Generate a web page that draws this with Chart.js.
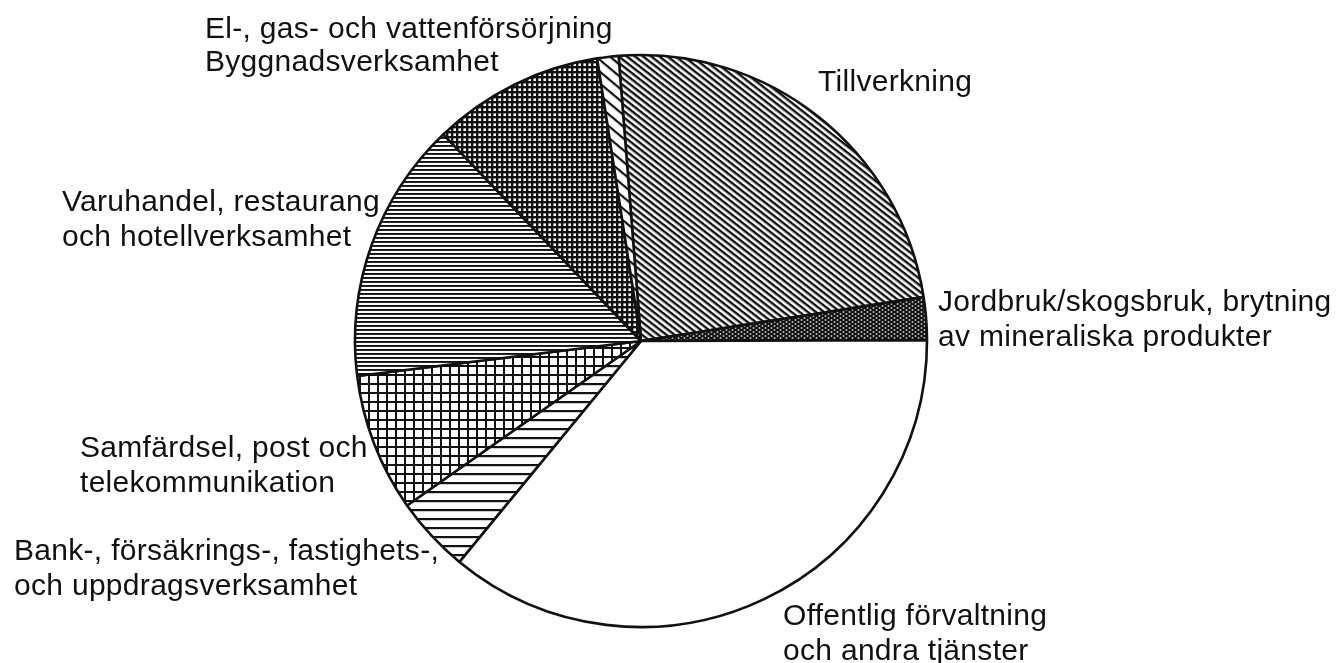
<!DOCTYPE html>
<html>
<head>
<meta charset="utf-8">
<script src="https://cdn.jsdelivr.net/npm/chart.js"></script>
<style>
  html, body { margin: 0; padding: 0; background: #fff; }
  #wrap { position: relative; width: 1336px; height: 663px; overflow: hidden; }
  #pie { position: absolute; left: 341px; top: 41px; width: 600px; height: 600px; }
  .lbl {
    position: absolute; white-space: pre; color: #111; letter-spacing: 0.3px;
    font-family: "Liberation Sans", Arial, sans-serif; font-size: 30px; line-height: 35px;
  }
</style>
</head>
<body>
<div id="wrap">
  <div id="pie"><canvas id="grafico-pizza"></canvas></div>
</div>
<script>
// Kategorier (medurs, med start vid Tillverkning)
const kategorier = [
  "Tillverkning",
  "Jordbruk/skogsbruk, brytning\nav mineraliska produkter",
  "Offentlig förvaltning\noch andra tjänster",
  "Bank-, försäkrings-, fastighets-,\noch uppdragsverksamhet",
  "Samfärdsel, post och\ntelekommunikation",
  "Varuhandel, restaurang\noch hotellverksamhet",
  "Byggnadsverksamhet",
  "El-, gas- och vattenförsörjning",
];

// Andel i procent
const andelar = [23.8, 2.4, 36.0, 4.3, 7.8, 14.8, 9.7, 1.2];

// Var etiketterna står (vänsterkant, mitten av första raden)
const etikettPos = [
  [818, 80], [938, 300], [783, 614], [14, 549],
  [80, 446], [62, 200], [205, 60], [205, 27],
];

// Skraffering
function monster(w, h, rita, vinkel) {
  const c = document.createElement("canvas");
  c.width = w; c.height = h;
  const g = c.getContext("2d");
  g.fillStyle = "#fff";
  g.fillRect(0, 0, w, h);
  g.fillStyle = "#111";
  rita(g, w, h);
  const p = g.createPattern(c, "repeat");
  if (vinkel) p.setTransform(new DOMMatrix().rotate(vinkel));
  return p;
}
const linjer = (lw) => (g, w) => g.fillRect(0, 0, w, lw);
const rutor = (lw) => (g, w, h) => { g.fillRect(0, 0, w, lw); g.fillRect(0, 0, lw, h); };

const fyllning = [
  monster(5, 5, linjer(2.4), 38),    // Tillverkning
  monster(6, 4, (g, w, h) => {       // Jordbruk
    g.fillRect(0, 0, w, h);
    g.fillStyle = "#fff";
    g.beginPath(); g.ellipse(1.5, 1, 1.0, 0.7, 0, 0, Math.PI * 2); g.fill();
    g.beginPath(); g.ellipse(4.5, 3, 1.0, 0.7, 0, 0, Math.PI * 2); g.fill();
  }),
  "#fff",                            // Offentlig
  monster(9, 9, linjer(2.2)),        // Bank
  monster(9, 9, rutor(2)),           // Samfärdsel
  monster(4, 4, linjer(1.9)),        // Varuhandel
  monster(5, 5, rutor(2.4)),         // Byggnad
  monster(9, 9, linjer(2.2), 40),    // El
];

const config = {
  type: "pie",
  data: {
    labels: kategorier,
    datasets: [{
      data: andelar,
      backgroundColor: fyllning,
      borderColor: "#111",
      borderWidth: 2.6,
    }],
  },
  options: {
    responsive: false,
    animation: false,
    events: [],
    rotation: -4.5,
    radius: 286,
    layout: { padding: 0 },
    plugins: { legend: { display: false }, tooltip: { enabled: false } },
  },
};

const cv = document.getElementById("grafico-pizza");
cv.width = 600; cv.height = 600;
new Chart(cv.getContext("2d"), config);

// Etiketter som riktig text
const wrap = document.getElementById("wrap");
kategorier.forEach((t, i) => {
  const d = document.createElement("div");
  d.className = "lbl";
  d.textContent = t;
  d.style.left = etikettPos[i][0] + "px";
  d.style.top = (etikettPos[i][1] - 17.5) + "px";
  wrap.appendChild(d);
});
</script>
</body>
</html>
